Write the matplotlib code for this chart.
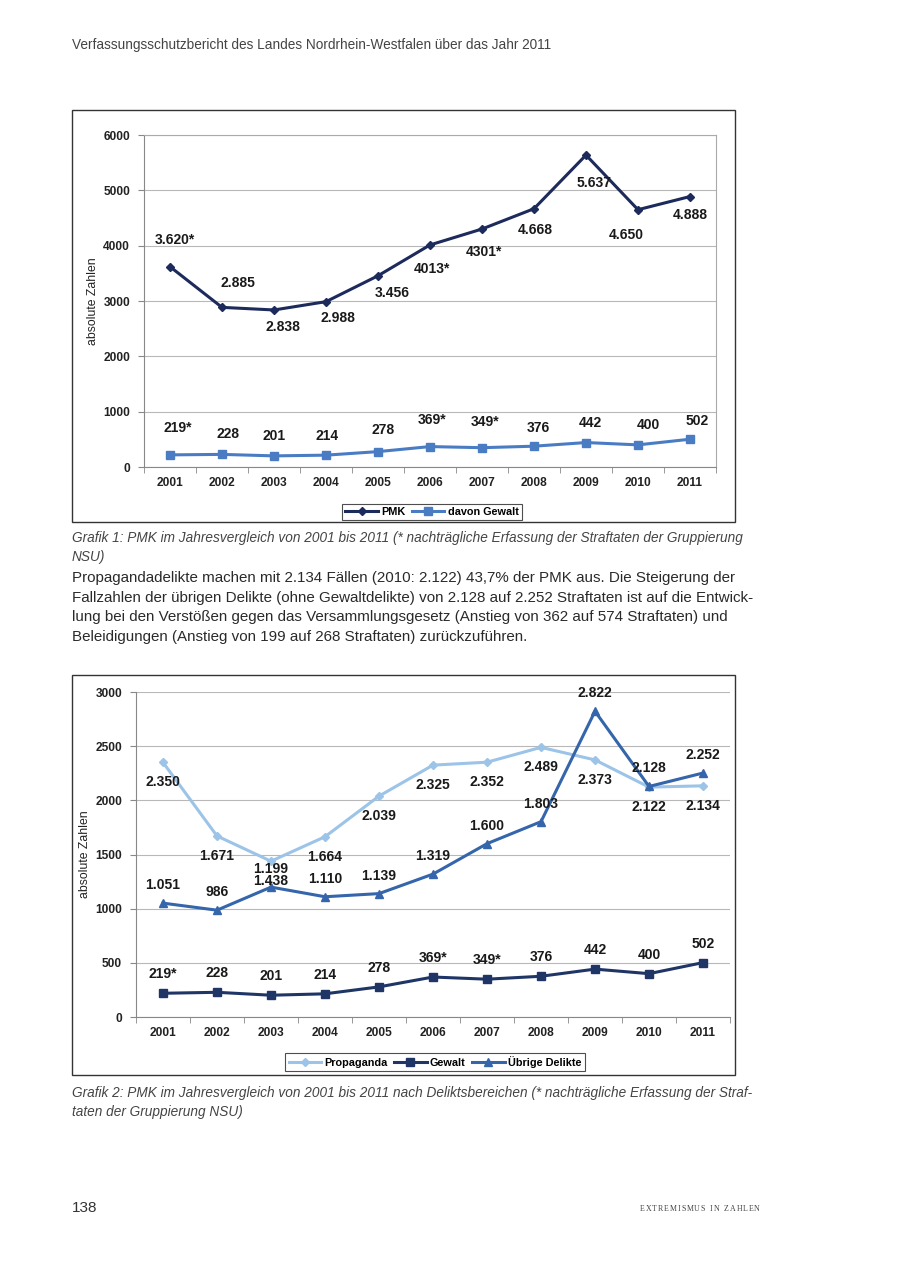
"""Page 138: PMK charts 2001-2011 (Verfassungsschutzbericht NRW)."""
import matplotlib
matplotlib.use("Agg")
import matplotlib.pyplot as plt
from matplotlib.patches import Rectangle
from matplotlib.ticker import FixedLocator

plt.rcParams["font.family"] = ["Liberation Sans", "DejaVu Sans"]

# --- data ---
years = ["2001", "2002", "2003", "2004", "2005", "2006", "2007", "2008", "2009", "2010", "2011"]

pmk = [3620, 2885, 2838, 2988, 3456, 4013, 4301, 4668, 5637, 4650, 4888]
pmk_labels = ["3.620*", "2.885", "2.838", "2.988", "3.456", "4013*", "4301*", "4.668", "5.637", "4.650", "4.888"]

gewalt = [219, 228, 201, 214, 278, 369, 349, 376, 442, 400, 502]
gewalt_labels = ["219*", "228", "201", "214", "278", "369*", "349*", "376", "442", "400", "502"]

propaganda = [2350, 1671, 1438, 1664, 2039, 2325, 2352, 2489, 2373, 2122, 2134]
propaganda_labels = ["2.350", "1.671", "1.438", "1.664", "2.039", "2.325", "2.352", "2.489", "2.373", "2.122", "2.134"]

uebrige = [1051, 986, 1199, 1110, 1139, 1319, 1600, 1803, 2822, 2128, 2252]
uebrige_labels = ["1.051", "986", "1.199", "1.110", "1.139", "1.319", "1.600", "1.803", "2.822", "2.128", "2.252"]

# label offsets in pixels (dx, dy), dy positive = up
pmk_offsets = [(5, 27), (16, 24), (9, -17), (12, -16), (14, -17), (2, -24),
               (2, -23), (1, -21), (8, -28), (-12, -25), (0, -18)]
gewalt1_offsets = [(8, 27), (6, 20), (0, 20), (1, 19), (5, 22), (2, 27),
                   (3, 26), (4, 18), (4, 20), (10, 20), (7, 18)]

W, H = 900, 1272
fig = plt.figure(figsize=(W / 100, H / 100), dpi=100)
fig.patch.set_facecolor("white")


def fx(px):
    return px / W


def fy(py):
    return 1 - py / H


def frame(x0, y0, x1, y1):
    fig.patches.append(Rectangle((fx(x0), fy(y1)), fx(x1) - fx(x0), fy(y0) - fy(y1),
                                 transform=fig.transFigure, fill=False,
                                 edgecolor="#333333", linewidth=1.0))


def style_axes(ax, ymax, ystep, all_spines):
    n = len(years)
    ax.set_xlim(-0.5, n - 0.5)
    ax.set_ylim(0, ymax)
    ax.set_xticks(range(n))
    ax.set_xticklabels(years, fontsize=8.6, fontweight="bold", color="#222222")
    ax.xaxis.set_minor_locator(FixedLocator([i - 0.5 for i in range(n + 1)]))
    ax.tick_params(axis="x", which="major", length=0, pad=7)
    ax.tick_params(axis="x", which="minor", length=4, color="#888888")
    ax.set_yticks(range(0, ymax + 1, ystep))
    ax.set_yticklabels([str(v) for v in range(0, ymax + 1, ystep)],
                       fontsize=8.6, fontweight="bold", color="#222222")
    ax.tick_params(axis="y", length=4, color="#888888", pad=6)
    ax.grid(axis="y", color="#b8b8b8", linewidth=0.8)
    ax.set_axisbelow(True)
    for side in ("left", "bottom"):
        ax.spines[side].set_color("#888888")
    for side in ("top", "right"):
        ax.spines[side].set_visible(all_spines)
        ax.spines[side].set_color("#aaaaaa")
    ax.set_ylabel("absolute Zahlen", fontsize=8.8, color="#222222", labelpad=3)


def put_labels(ax, values, labels, offsets):
    for i, (v, lab) in enumerate(zip(values, labels)):
        dx, dy = offsets[i]
        ax.annotate(lab, (i, v), xytext=(dx, dy), textcoords="offset pixels",
                    ha="center", va="center", fontsize=10, fontweight="bold", color="#1a1a1a")


# --- header ---
fig.text(fx(72), fy(45), "Verfassungsschutzbericht des Landes Nordrhein-Westfalen über das Jahr 2011",
         fontsize=9.8, color="#444444", ha="left", va="center")

# --- chart 1 ---
frame(72, 110, 735, 522)
ax1 = fig.add_axes([fx(144), fy(467), fx(716) - fx(144), fy(135) - fy(467)])
style_axes(ax1, 6000, 1000, True)
x = range(len(years))
l_pmk, = ax1.plot(x, pmk, color="#1c2a5c", linewidth=2.2, marker="D", markersize=4.5, label="PMK")
l_gew, = ax1.plot(x, gewalt, color="#4a7cc4", linewidth=2.2, marker="s", markersize=6, label="davon Gewalt")
put_labels(ax1, pmk, pmk_labels, pmk_offsets)
put_labels(ax1, gewalt, gewalt_labels, gewalt1_offsets)
leg1 = fig.legend(handles=[l_pmk, l_gew], loc="center", bbox_to_anchor=(fx(432), fy(512)),
                  ncol=2, fontsize=7.8, frameon=True, fancybox=False, borderpad=0.3,
                  handlelength=3, handletextpad=0.3, columnspacing=0.6, borderaxespad=0)
leg1.get_frame().set_edgecolor("#222222")
leg1.get_frame().set_linewidth(0.8)
for t in leg1.get_texts():
    t.set_fontweight("bold")

# --- caption 1 ---
fig.text(fx(72), fy(538), "Grafik 1: PMK im Jahresvergleich von 2001 bis 2011 (* nachträgliche Erfassung der Straftaten der Gruppierung",
         fontsize=9.85, style="italic", color="#444444", ha="left", va="center")
fig.text(fx(72), fy(557), "NSU)", fontsize=9.85, style="italic", color="#444444", ha="left", va="center")

# --- body text ---
body = [
    "Propagandadelikte machen mit 2.134 Fällen (2010: 2.122) 43,7% der PMK aus. Die Steigerung der",
    "Fallzahlen der übrigen Delikte (ohne Gewaltdelikte) von 2.128 auf 2.252 Straftaten ist auf die Entwick-",
    "lung bei den Verstößen gegen das Versammlungsgesetz (Anstieg von 362 auf 574 Straftaten) und",
    "Beleidigungen (Anstieg von 199 auf 268 Straftaten) zurückzuführen.",
]
for k, line in enumerate(body):
    fig.text(fx(72), fy(578 + 19.7 * k), line, fontsize=10.93, color="#2a2a2a", ha="left", va="center")

# --- chart 2 ---
frame(72, 675, 735, 1075)
ax2 = fig.add_axes([fx(136), fy(1017), fx(730) - fx(136), fy(692) - fy(1017)])
style_axes(ax2, 3000, 500, False)
l_prop, = ax2.plot(x, propaganda, color="#9cc3e8", linewidth=2.2, marker="D", markersize=4.5, label="Propaganda")
l_gew2, = ax2.plot(x, gewalt, color="#1f3566", linewidth=2.2, marker="s", markersize=6, label="Gewalt")
l_ueb, = ax2.plot(x, uebrige, color="#3565aa", linewidth=2.2, marker="^", markersize=6, label="Übrige Delikte")
put_labels(ax2, propaganda, propaganda_labels, [(0, -20)] * len(years))
put_labels(ax2, uebrige, uebrige_labels, [(0, 18)] * len(years))
put_labels(ax2, gewalt, gewalt_labels, [(0, 19)] * len(years))
leg2 = fig.legend(handles=[l_prop, l_gew2, l_ueb], loc="center", bbox_to_anchor=(fx(435), fy(1062)),
                  ncol=3, fontsize=7.8, frameon=True, fancybox=False, borderpad=0.3,
                  handlelength=3, handletextpad=0.3, columnspacing=0.6, borderaxespad=0)
leg2.get_frame().set_edgecolor("#222222")
leg2.get_frame().set_linewidth(0.8)
for t in leg2.get_texts():
    t.set_fontweight("bold")

# --- caption 2 ---
fig.text(fx(72), fy(1093), "Grafik 2: PMK im Jahresvergleich von 2001 bis 2011 nach Deliktsbereichen (* nachträgliche Erfassung der Straf-",
         fontsize=9.85, style="italic", color="#444444", ha="left", va="center")
fig.text(fx(72), fy(1112), "taten der Gruppierung NSU)", fontsize=9.85, style="italic", color="#444444",
         ha="left", va="center")

# --- footer ---
fig.text(fx(72), fy(1208), "138", fontsize=11, color="#333333", ha="left", va="center")

# letter-spaced running title, spread over 640..760 px
footer = "EXTREMISMUS IN ZAHLEN"
renderer = fig.canvas.get_renderer()
chars = []
widths = []
for ch in footer:
    t = fig.text(0, 0, ch if ch != " " else "", fontsize=5.7,
                 family=["Liberation Serif", "DejaVu Serif"], color="#444444",
                 ha="left", va="center")
    chars.append(t)
    widths.append(t.get_window_extent(renderer).width if ch != " " else 3.0)
track = (760 - 640 - sum(widths)) / (len(footer) - 1)
xpos = 640
for t, w in zip(chars, widths):
    t.set_position((fx(xpos), fy(1209)))
    xpos += w + track

fig.savefig("out.png", dpi=100)
